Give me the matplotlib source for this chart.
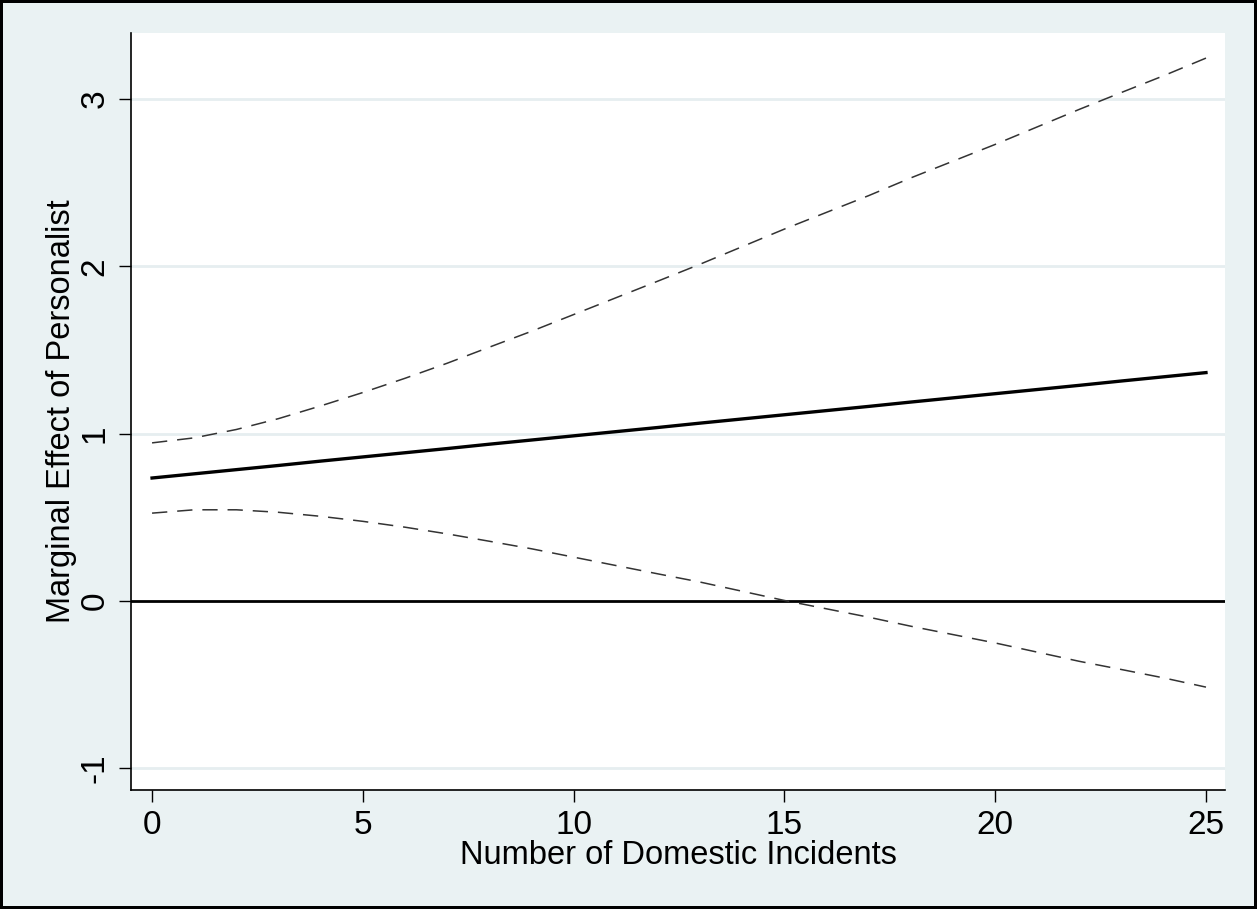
import matplotlib
matplotlib.use("Agg")
import matplotlib.pyplot as plt

# number of domestic incidents
incidents = [0, 1, 2, 3, 4, 5, 6, 7, 8, 9, 10, 11, 12,
             13, 14, 15, 16, 17, 18, 19, 20, 21, 22, 23, 24, 25]
# marginal effect of personalist
effect = [0.735, 0.760, 0.785, 0.810, 0.836, 0.861, 0.886, 0.911, 0.937,
          0.962, 0.987, 1.012, 1.037, 1.063, 1.088, 1.113, 1.138, 1.163,
          1.189, 1.214, 1.239, 1.264, 1.289, 1.315, 1.340, 1.365]
upper = [0.945, 0.975, 1.025, 1.090, 1.166, 1.246, 1.331, 1.421, 1.517,
         1.612, 1.712, 1.812, 1.912, 2.013, 2.118, 2.223, 2.323, 2.423,
         2.529, 2.629, 2.729, 2.834, 2.939, 3.040, 3.140, 3.245]
lower = [0.525, 0.545, 0.545, 0.530, 0.506, 0.476, 0.441, 0.401, 0.357,
         0.312, 0.262, 0.212, 0.162, 0.113, 0.058, 0.003, -0.047, -0.097,
         -0.151, -0.201, -0.251, -0.306, -0.361, -0.410, -0.460, -0.515]

x_ticks = [0, 5, 10, 15, 20, 25]
y_ticks = [-1, 0, 1, 2, 3]

bg = "#eaf2f3"
plt.rcParams["font.family"] = ["Liberation Sans", "DejaVu Sans"]

fig = plt.figure(figsize=(12.57, 9.09), dpi=100, facecolor=bg,
                 edgecolor="black", linewidth=3)
ax = fig.add_axes([0.1042, 0.1309, 0.8703, 0.8328])
ax.set_facecolor("white")

# light grid lines
for yv in y_ticks:
    if yv != 0:
        ax.axhline(yv, color="#e6eef0", lw=2, zorder=0)
ax.axhline(0, color="black", lw=2, zorder=2)

ax.plot(incidents, upper, color="#333333", lw=1.1, dashes=(10, 6.5))
ax.plot(incidents, lower, color="#333333", lw=1.1, dashes=(10, 6.5))
ax.plot(incidents, effect, color="black", lw=2.4)

ax.set_xlim(-0.5, 25.45)
ax.set_ylim(-1.13, 3.395)
ax.set_xticks(x_ticks)
ax.set_yticks(y_ticks)
ax.set_yticklabels([str(v) for v in y_ticks], rotation=90, va="center")
ax.tick_params(axis="both", direction="out", length=8.5, width=1,
               labelsize=24, color="black", pad=6)

for s in ["top", "right"]:
    ax.spines[s].set_visible(False)
for s in ["left", "bottom"]:
    ax.spines[s].set_linewidth(1.2)

ax.set_xlabel("Number of Domestic Incidents", fontsize=23.5, labelpad=-1)
ax.set_ylabel("Marginal Effect of Personalist", fontsize=23.5, labelpad=2)

fig.savefig("out.png", dpi=100, facecolor=bg, edgecolor="black")
